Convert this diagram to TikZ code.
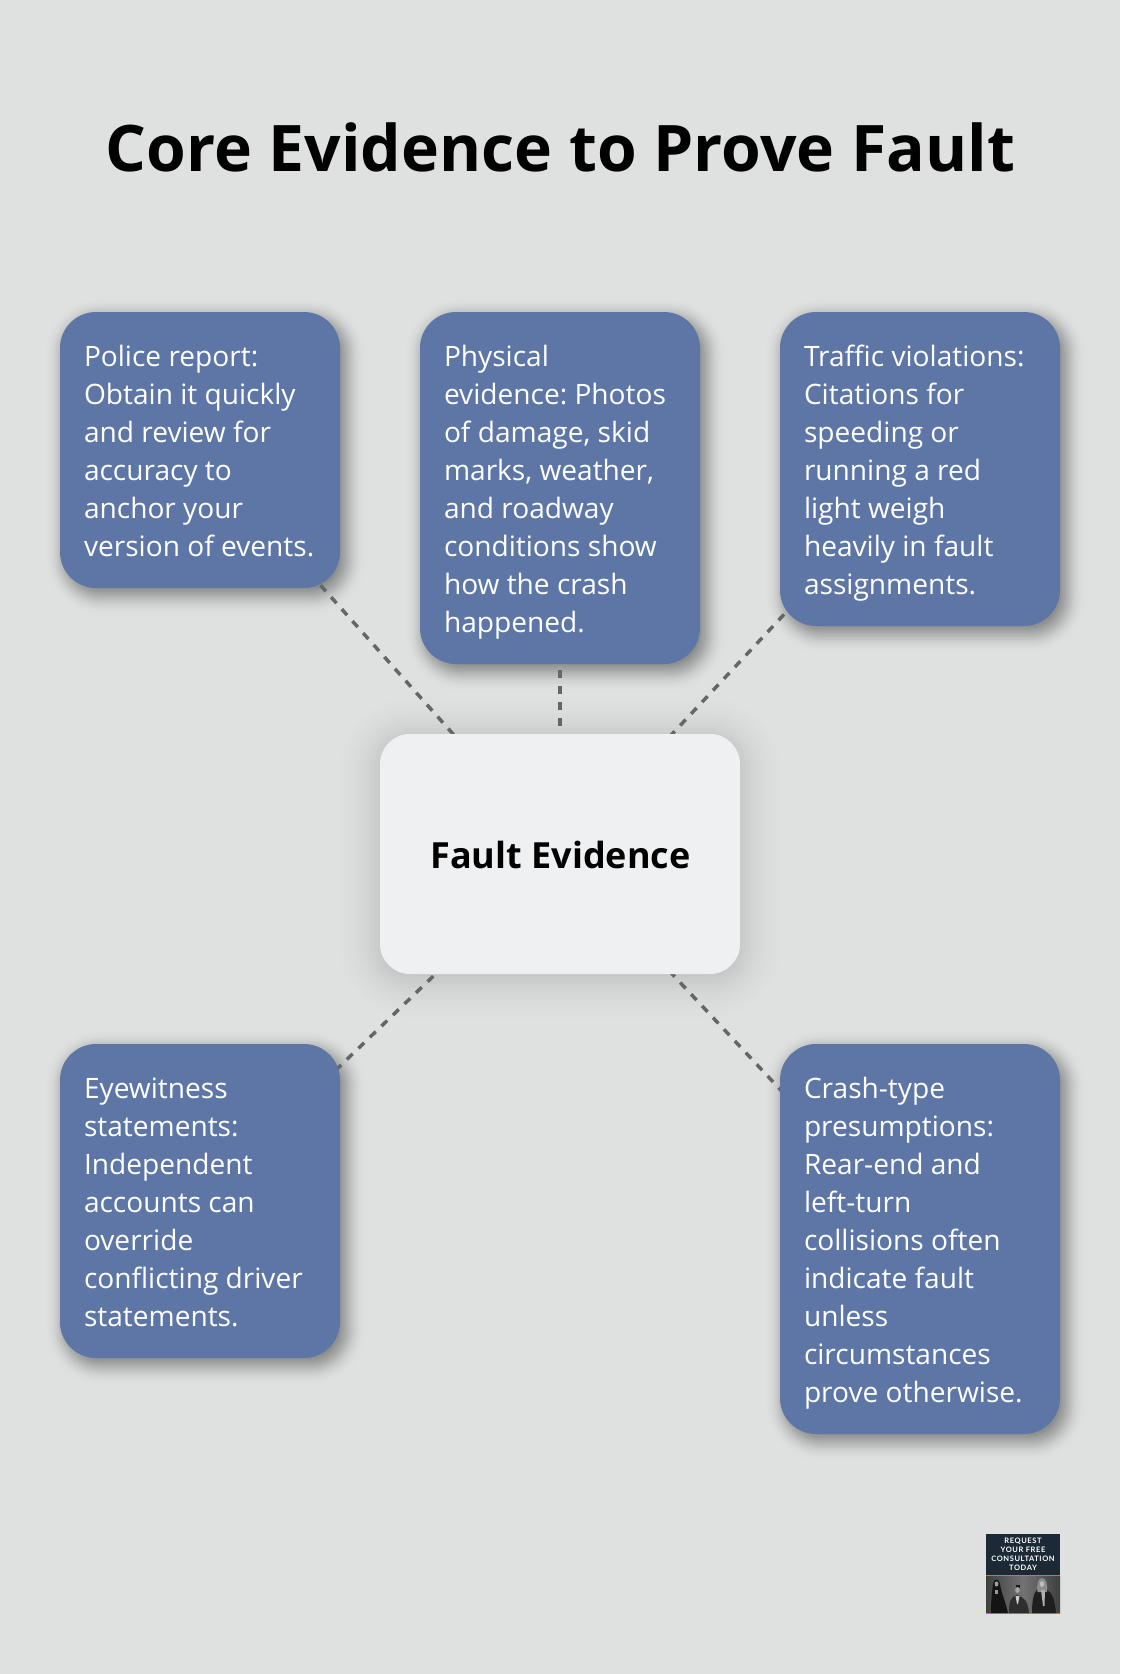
\documentclass[tikz,border=0pt]{standalone}
\usepackage{fontspec}
\setmainfont{Open Sans}
\newfontfamily\logofont[LetterSpace=8]{Lato}
\usetikzlibrary{calc}
\frenchspacing
\pgfdeclarelayer{bglayer}
\pgfdeclarelayer{shadowlayer}
\pgfdeclarelayer{linelayer}
\pgfsetlayers{bglayer,shadowlayer,linelayer,main}
\definecolor{pagebg}{RGB}{223,225,224}
\definecolor{bluebox}{RGB}{93,118,166}
\definecolor{centerbox}{RGB}{239,240,242}
\definecolor{connline}{RGB}{102,102,102}
\definecolor{logodark}{RGB}{27,42,54}
\definecolor{logoorange}{RGB}{196,122,48}
\newskip\wordgap
\wordgap=7.3pt
\newcommand\ls{\vrule width0pt height30pt depth8pt\relax\spaceskip=\wordgap\relax}
% node, dx, dy, blur, total opacity, steps, radius : bell-weighted soft shadow
\newcommand\softshadow[7]{%
  \foreach \kk in {1,...,#6}{
    \pgfmathsetmacro\tv{1-2*\kk/(#6+1)}
    \pgfmathsetmacro\ii{#4*\tv}
    \pgfmathsetmacro\rr{max(#7+\ii,2)}
    \pgfmathsetmacro\aa{#5*exp(-3*\tv*\tv)/(#6*0.49)}
    \fill[black,opacity=\aa,rounded corners=\rr pt]
      ($(#1.north west)+(#2-\ii,#3-\ii)$) rectangle ($(#1.south east)+(#2+\ii,#3+\ii)$);
  }}
\tikzset{
  x=1pt,y=-1pt,
  infobox/.style={fill=bluebox,text=white,rounded corners=36pt,minimum width=280pt,
    inner xsep=24pt,inner ysep=24pt,text width=232pt,align=left,
    font=\fontsize{28.1}{38}\selectfont},
  hubbox/.style={fill=centerbox,text=black,rounded corners=30pt,minimum width=360pt,
    minimum height=240pt,inner sep=0pt},
  hubtext/.style={text=black,inner sep=0pt,font=\fontsize{36}{46}\selectfont\bfseries},
  titletext/.style={text=black,inner sep=0pt,font=\fontsize{64.2}{80}\selectfont\bfseries},
  conn/.style={draw=connline,line width=3.5pt,dash pattern=on 8pt off 8pt},
  logotext/.style={text=white,inner sep=0pt,font=\fontsize{7.5}{9}\selectfont\logofont\bfseries},
}
\begin{document}
\begin{tikzpicture}
\useasboundingbox (0,0) rectangle (1120,1674);
\begin{pgfonlayer}{bglayer}
  \fill[pagebg] (0,0) rectangle (1120,1674);
\end{pgfonlayer}

\node[titletext,anchor=base] (title) at (560.5,171) {Core Evidence to Prove Fault};

\node[infobox] (b1) at (200,450) {\ls Police report:\\\ls Obtain it quickly\\\ls and review for\\\ls accuracy to\\\ls anchor your\\\ls version of events.};
\node[infobox] (b2) at (560,488) {\ls Physical\\\ls evidence: Photos\\\ls of damage, skid\\\ls marks, weather,\\\ls and roadway\\\ls conditions show\\\ls how the crash\\\ls happened.};
\node[infobox] (b3) at (920,469) {\ls Traffic violations:\\\ls Citations for\\\ls speeding or\\\ls running a red\\\ls light weigh\\\ls heavily in fault\\\ls assignments.};
\node[infobox] (b4) at (200,1201) {\ls Eyewitness\\\ls statements:\\\ls Independent\\\ls accounts can\\\ls override\\\ls conflicting driver\\\ls statements.};
\node[infobox] (b5) at (920,1239) {\ls Crash-type\\\ls presumptions:\\\ls Rear-end and\\\ls left-turn\\\ls collisions often\\\ls indicate fault\\\ls unless\\\ls circumstances\\\ls prove otherwise.};
\node[hubbox] (hub) at (560,854) {};
\node[hubtext,anchor=base] (hubt) at (560.5,868) {Fault Evidence};

\begin{pgfonlayer}{shadowlayer}
  \softshadow{hub}{0}{4}{52}{0.17}{26}{30}
  \foreach \bb in {b1,b2,b3,b4,b5}{
    \softshadow{\bb}{0}{2}{20}{0.05}{10}{36}
    \softshadow{\bb}{6}{7}{22}{0.42}{22}{36}
  }
\end{pgfonlayer}

\begin{pgfonlayer}{linelayer}
  \draw[conn] (hub.center) -- (b1.center);
  \draw[conn] (hub.center) -- (b2.center);
  \draw[conn] (hub.center) -- (b3.center);
  \draw[conn] (hub.center) -- (b4.center);
  \draw[conn] (hub.center) -- (b5.center);
\end{pgfonlayer}

% logo badge
\fill[logodark] (986,1534) rectangle (1060,1575);
\shade[left color=black!75,right color=black!75,middle color=black!55] (986,1576) rectangle (1060,1613);
\fill[logoorange] (986,1575) rectangle (1060,1576);
\fill[logoorange] (986,1613) rectangle (1060,1614);
\node[logotext,anchor=base] (lg1) at (1023,1543.5) {REQUEST};
\node[logotext,anchor=base] (lg2) at (1023,1552.6) {YOUR FREE};
\node[logotext,anchor=base] (lg3) at (1023,1561.7) {CONSULTATION};
\node[logotext,anchor=base] (lg4) at (1023,1570.8) {TODAY};
% left figure
\fill[black!92] (991,1613) .. controls (991,1600) and (992,1592) .. (993,1584) .. controls (994,1578) and (999,1578) .. (1000,1584) .. controls (1001,1592) and (1005,1600) .. (1008,1613) -- cycle;
\fill[black!38] (996.5,1584) ellipse (1.9 and 2.6);
\fill[black!40] (994.5,1590) rectangle (997.5,1594);
% right figure
\fill[black!88] (1032,1613) .. controls (1032,1600) and (1034,1592) .. (1037,1590) -- (1047,1590) .. controls (1052,1592) and (1055,1600) .. (1056,1613) -- cycle;
\fill[black!45] (1037.5,1592) .. controls (1036.5,1584) and (1038,1578) .. (1042,1578) .. controls (1046,1578) and (1048,1584) .. (1047,1592) -- cycle;
\fill[black!25] (1042,1584) ellipse (2.2 and 2.9);
\fill[black!30] (1041,1590) -- (1045,1590) -- (1044.5,1606) -- (1043,1606) -- cycle;
% centre figure
\fill[black!82] (1009,1613) .. controls (1009,1600) and (1011,1597) .. (1017,1595) .. controls (1023,1597) and (1028,1600) .. (1029,1613) -- cycle;
\fill[black!90] (1015.5,1584.5) rectangle (1020,1588);
\fill[black!35] (1017.5,1590) ellipse (2.3 and 3);
\fill[black!20] (1015.5,1596) -- (1019.5,1596) -- (1018,1604) -- (1017,1604) -- cycle;
\end{tikzpicture}
\end{document}
